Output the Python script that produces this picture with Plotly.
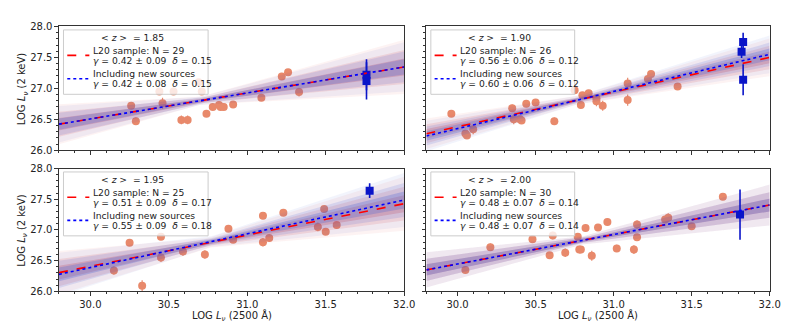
import numpy as np
import plotly.graph_objects as go
from plotly.subplots import make_subplots

X_RANGE = [29.8, 32.0]
Y_RANGE = [26.0, 28.0]

# fit results per panel (z bins)
Z_MEAN = ["1.85", "1.90", "1.95", "2.00"]
N_L20 = [29, 26, 25, 30]
GAMMA_L20 = [0.42, 0.56, 0.51, 0.48]
GERR_L20 = [0.09, 0.06, 0.09, 0.07]
DELTA_L20 = [0.15, 0.12, 0.17, 0.14]
GAMMA_NEW = [0.42, 0.60, 0.55, 0.48]
GERR_NEW = [0.08, 0.06, 0.09, 0.07]
DELTA_NEW = [0.15, 0.12, 0.18, 0.14]
PIVOT_X = [30.70, 30.75, 30.75, 30.80]
PIVOT_Y_L20 = [26.80, 26.80, 26.79, 26.83]
PIVOT_Y_NEW = [26.80, 26.80, 26.80, 26.83]
PIVOT_ERR = [0.02, 0.02, 0.025, 0.02]

# L20 sources (orange)
L20_X_1 = [30.26, 30.29, 30.44, 30.46, 30.53, 30.58, 30.62, 30.69, 30.71, 30.74,
           30.78, 30.82, 30.83, 30.85, 30.91, 31.09, 31.22, 31.26, 31.33]
L20_Y_1 = [26.72, 26.47, 26.95, 26.76, 26.95, 26.49, 26.49, 27.10, 26.95, 26.59,
           26.70, 26.73, 26.70, 26.70, 26.74, 26.85, 27.19, 27.26, 26.94]
L20_E_1 = [0.04, 0.06, 0.04, 0.09, 0.04, 0.07, 0.07, 0.05, 0.05, 0.04,
           0.04, 0.04, 0.04, 0.04, 0.05, 0.04, 0.04, 0.05, 0.07]

L20_X_2 = [29.96, 30.05, 30.06, 30.10, 30.35, 30.36, 30.40, 30.41, 30.44, 30.50,
           30.62, 30.75, 30.79, 30.80, 30.84, 30.89, 30.89, 30.93, 31.09, 31.09,
           31.22, 31.24, 31.41]
L20_Y_2 = [26.59, 26.27, 26.24, 26.34, 26.68, 26.50, 26.50, 26.48, 26.75, 26.77,
           26.47, 26.97, 26.73, 26.89, 26.92, 26.84, 26.79, 26.72, 27.08, 26.81,
           27.15, 27.23, 27.03]
L20_E_2 = [0.04, 0.04, 0.04, 0.08, 0.06, 0.08, 0.04, 0.04, 0.05, 0.04,
           0.06, 0.04, 0.05, 0.05, 0.04, 0.06, 0.08, 0.08, 0.09, 0.09,
           0.04, 0.04, 0.04]

L20_X_3 = [30.15, 30.25, 30.33, 30.45, 30.45, 30.59, 30.73, 30.88, 30.91, 31.10,
           31.10, 31.14, 31.23, 31.45, 31.49, 31.50, 31.57]
L20_Y_3 = [26.34, 26.79, 26.09, 26.89, 26.55, 26.65, 26.60, 27.02, 26.84, 27.23,
           26.80, 26.87, 27.28, 27.05, 27.34, 26.97, 27.08]
L20_E_3 = [0.07, 0.04, 0.09, 0.04, 0.07, 0.07, 0.07, 0.04, 0.05, 0.04,
           0.07, 0.06, 0.04, 0.07, 0.04, 0.04, 0.05]

L20_X_4 = [30.05, 30.21, 30.48, 30.59, 30.61, 30.69, 30.77, 30.78, 30.79, 30.82,
           30.86, 30.90, 30.96, 31.02, 31.13, 31.15, 31.15, 31.33, 31.35, 31.50,
           31.70]
L20_Y_4 = [26.35, 26.72, 26.85, 26.59, 26.91, 26.63, 26.89, 26.68, 26.68, 27.03,
           26.58, 27.04, 27.13, 26.70, 26.68, 27.09, 26.88, 27.17, 27.20, 27.06,
           27.54]
L20_E_4 = [0.06, 0.06, 0.04, 0.05, 0.06, 0.07, 0.05, 0.06, 0.06, 0.04,
           0.08, 0.04, 0.05, 0.06, 0.07, 0.07, 0.06, 0.05, 0.07, 0.04,
           0.04]

# new sources (blue squares)
NEW_X_1 = [31.76, 31.76]
NEW_Y_1 = [27.22, 27.12]
NEW_E_1 = [0.25, 0.30]
NEW_X_2 = [31.83, 31.82, 31.83]
NEW_Y_2 = [27.75, 27.59, 27.14]
NEW_E_2 = [0.15, 0.10, 0.25]
NEW_X_3 = [31.78]
NEW_Y_3 = [27.64]
NEW_E_3 = [0.12]
NEW_X_4 = [31.81]
NEW_Y_4 = [27.25]
NEW_E_4 = [0.41]

L20_PTS = [(L20_X_1, L20_Y_1, L20_E_1), (L20_X_2, L20_Y_2, L20_E_2),
           (L20_X_3, L20_Y_3, L20_E_3), (L20_X_4, L20_Y_4, L20_E_4)]
NEW_PTS = [(NEW_X_1, NEW_Y_1, NEW_E_1), (NEW_X_2, NEW_Y_2, NEW_E_2),
           (NEW_X_3, NEW_Y_3, NEW_E_3), (NEW_X_4, NEW_Y_4, NEW_E_4)]

ORANGE = "#e8896b"
SQUARE_BLUE = "#0a14c8"
FONT = "DejaVu Sans"
TITLE_X = "LOG <i>L</i><sub><i>ν</i></sub> (2500 Å)"
TITLE_Y = "LOG <i>L</i><sub><i>ν</i></sub> (2 keV)"

fig = make_subplots(rows=2, cols=2)
cells = [(1, 1), (1, 2), (2, 1), (2, 2)]
base_ids = ["", "2", "3", "4"]
over_ids = ["5", "6", "7", "8"]   # overlay axes so the fits sit above the orange points

xgrid = np.linspace(X_RANGE[0], X_RANGE[1], 60)


def add_band(xa, ya, x0, y0, g, gerr, aerr, rgb):
    # nested uncertainty bands, standing in for the bundle of posterior lines
    for k, alpha in [(3.2, 0.07), (2, 0.15), (1, 0.27)]:
        mid = y0 + g * (xgrid - x0)
        half = k * (gerr * np.abs(xgrid - x0) + aerr)
        fig.add_trace(go.Scatter(x=xgrid, y=mid + half, mode="lines",
                                 line=dict(width=0), showlegend=False,
                                 hoverinfo="skip", xaxis=xa, yaxis=ya))
        fig.add_trace(go.Scatter(x=xgrid, y=mid - half, mode="lines",
                                 line=dict(width=0), fill="tonexty",
                                 fillcolor=f"rgba({rgb},{alpha})",
                                 showlegend=False, hoverinfo="skip",
                                 xaxis=xa, yaxis=ya))


for i, (row, col) in enumerate(cells):
    lx, ly, le = L20_PTS[i]
    fig.add_trace(go.Scatter(
        x=lx, y=ly, mode="markers",
        marker=dict(size=8, color=ORANGE),
        error_y=dict(type="data", array=le, color=ORANGE, thickness=1.2, width=0),
        showlegend=False), row=row, col=col)

for i in range(4):
    xa, ya = "x" + over_ids[i], "y" + over_ids[i]
    add_band(xa, ya, PIVOT_X[i], PIVOT_Y_L20[i], GAMMA_L20[i], GERR_L20[i],
             PIVOT_ERR[i], "228,80,80")
    add_band(xa, ya, PIVOT_X[i], PIVOT_Y_NEW[i], GAMMA_NEW[i], GERR_NEW[i],
             PIVOT_ERR[i], "65,95,215")

    nx, ny, ne = NEW_PTS[i]
    fig.add_trace(go.Scatter(
        x=nx, y=ny, mode="markers",
        marker=dict(size=8, color=SQUARE_BLUE, symbol="square"),
        error_y=dict(type="data", array=ne, color=SQUARE_BLUE, thickness=1.6, width=0),
        showlegend=False, xaxis=xa, yaxis=ya))

    yl20 = PIVOT_Y_L20[i] + GAMMA_L20[i] * (np.array(X_RANGE) - PIVOT_X[i])
    ynew = PIVOT_Y_NEW[i] + GAMMA_NEW[i] * (np.array(X_RANGE) - PIVOT_X[i])
    fig.add_trace(go.Scatter(
        x=X_RANGE, y=yl20, mode="lines",
        line=dict(color="red", width=1.6, dash="dash"),
        showlegend=False, xaxis=xa, yaxis=ya))
    fig.add_trace(go.Scatter(
        x=X_RANGE, y=ynew, mode="lines",
        line=dict(color="blue", width=1.6, dash="dot"),
        showlegend=False, xaxis=xa, yaxis=ya))

# panel placement in paper coordinates
xdom = [[0.0652, 0.5066], [0.535, 0.974]]
ydom = [[0.571, 0.958], [0.130, 0.514]]

axis_common = dict(showline=True, linecolor="#333", linewidth=1, mirror=True,
                   ticks="outside", ticklen=3.5, tickcolor="#333", showgrid=False,
                   zeroline=False, tickfont=dict(size=10, color="#222"),
                   minor=dict(ticks="outside", ticklen=2, dtick=0.1, tickcolor="#333"))

for i, (row, col) in enumerate(cells):
    fig.update_xaxes(range=X_RANGE, dtick=0.5, tick0=30.0, tickformat=".1f",
                     domain=xdom[col - 1], showticklabels=(row == 2),
                     row=row, col=col, **axis_common)
    fig.update_yaxes(range=Y_RANGE, dtick=0.5, tickformat=".1f",
                     domain=ydom[row - 1], showticklabels=(col == 1),
                     row=row, col=col, **axis_common)

overlay_axes = {}
for i, (row, col) in enumerate(cells):
    overlay_axes["xaxis" + over_ids[i]] = dict(
        overlaying="x" + base_ids[i], anchor="y" + over_ids[i], range=X_RANGE,
        domain=xdom[col - 1], visible=False, showgrid=False, zeroline=False)
    overlay_axes["yaxis" + over_ids[i]] = dict(
        overlaying="y" + base_ids[i], anchor="x" + over_ids[i], range=Y_RANGE,
        domain=ydom[row - 1], visible=False, showgrid=False, zeroline=False)

# hand-built legends (matplotlib style box in the upper-left of each panel)
shapes = []
annotations = []
for i in range(4):
    xr = f"x{base_ids[i]} domain"
    yr = f"y{base_ids[i]} domain"
    shapes.append(dict(type="rect", xref=xr, yref=yr, x0=0.013, x1=0.432,
                       y0=0.452, y1=0.972, fillcolor="rgba(255,255,255,0.8)",
                       line=dict(color="#cccccc", width=1), layer="above"))
    shapes.append(dict(type="line", xref=xr, yref=yr, x0=0.024, x1=0.088,
                       y0=0.766, y1=0.766, line=dict(color="red", width=1.6, dash="dash"),
                       layer="above"))
    shapes.append(dict(type="line", xref=xr, yref=yr, x0=0.024, x1=0.088,
                       y0=0.578, y1=0.578, line=dict(color="blue", width=1.6, dash="dot"),
                       layer="above"))
    texts = [
        (0.214, 0.913, f"&lt; <i>z</i> &gt;  = {Z_MEAN[i]}", "center"),
        (0.093, 0.805, f"L20 sample: N = {N_L20[i]}", "left"),
        (0.093, 0.725, f"<i>γ</i> = {GAMMA_L20[i]:.2f} ± {GERR_L20[i]:.2f}  "
                       f"<i>δ</i> = {DELTA_L20[i]:.2f}", "left"),
        (0.093, 0.617, "Including new sources", "left"),
        (0.093, 0.537, f"<i>γ</i> = {GAMMA_NEW[i]:.2f} ± {GERR_NEW[i]:.2f}  "
                       f"<i>δ</i> = {DELTA_NEW[i]:.2f}", "left"),
    ]
    for tx, ty, t, anchor in texts:
        annotations.append(dict(xref=xr, yref=yr, x=tx, y=ty, text=t,
                                xanchor=anchor, yanchor="middle", showarrow=False,
                                font=dict(size=9.2, color="#222")))

# axis titles: x only under the bottom row, y only left of the left column
for d in xdom:
    annotations.append(dict(xref="paper", yref="paper", x=(d[0] + d[1]) / 2,
                            y=0.054, text=TITLE_X, showarrow=False,
                            xanchor="center", yanchor="middle",
                            font=dict(size=10, color="#222")))
for d in ydom:
    annotations.append(dict(xref="paper", yref="paper", x=0.019,
                            y=(d[0] + d[1]) / 2, text=TITLE_Y, showarrow=False,
                            textangle=-90, xanchor="center", yanchor="middle",
                            font=dict(size=10, color="#222")))

fig.update_layout(
    width=793, height=331,
    margin=dict(l=0, r=0, t=0, b=0),
    paper_bgcolor="white", plot_bgcolor="white",
    font=dict(family=FONT, size=10, color="#222"),
    shapes=shapes, annotations=annotations,
    showlegend=False,
    **overlay_axes,
)

fig.write_html("out.html")
